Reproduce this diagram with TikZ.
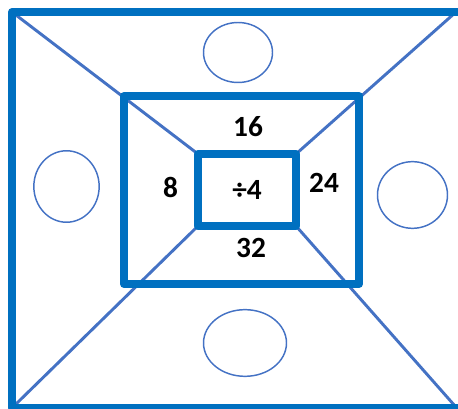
\documentclass[tikz,border=0pt]{standalone}
\usepackage{fontspec}
\setmainfont{Carlito}
\usetikzlibrary{shapes.geometric}
\definecolor{rectblue}{HTML}{0070C0}
\definecolor{lineblue}{HTML}{4472C4}
\begin{document}
\begin{tikzpicture}[x=0.75pt,y=-0.75pt,
  frame/.style={draw=rectblue,line width=6pt,line join=round},
  diag/.style={draw=lineblue,line width=2.2pt},
  hole/.style={draw=lineblue,line width=1.1pt,ellipse,inner sep=0pt},
  lbl/.style={font=\bfseries\fontsize{22}{26}\selectfont,text=black,inner sep=0pt}]
\useasboundingbox (0,0) rectangle (458,409);
\clip (0,0) rectangle (458,409);
% corners
\coordinate (oTL) at (12,12);
\coordinate (oTR) at (456,12);
\coordinate (oBL) at (14,406);
\coordinate (oBR) at (455,406);
\coordinate (iTL) at (198,154);
\coordinate (iTR) at (296,154);
\coordinate (iBL) at (198,226);
\coordinate (iBR) at (296,226);
% diagonals
\draw[diag] (oTL) -- (iTL);
\draw[diag] (oTR) -- (iTR);
\draw[diag] (oBL) -- (iBL);
\draw[diag] (oBR) -- (iBR);
% frames
\draw[frame] (12,12) rectangle (464,408);
\draw[frame] (124,96) rectangle (359,284);
\draw[frame] (iTL) rectangle (iBR);
% ellipses
\node[hole,minimum width=51.75pt,minimum height=45pt] (top) at (238,52.5) {};
\node[hole,minimum width=49pt,minimum height=53.6pt] (left) at (66.5,186.5) {};
\node[hole,minimum width=52.5pt,minimum height=50pt] (right) at (412.5,195) {};
\node[hole,minimum width=62.25pt,minimum height=50pt] (bottom) at (245,343) {};
% labels
\node[lbl] (n16) at (248,127) {16};
\node[lbl] (n8) at (170.5,187) {8};
\node[lbl] (div) at (247,190) {÷4};
\node[lbl] (n24) at (324,183) {24};
\node[lbl] (n32) at (251,248) {32};
\end{tikzpicture}
\end{document}
